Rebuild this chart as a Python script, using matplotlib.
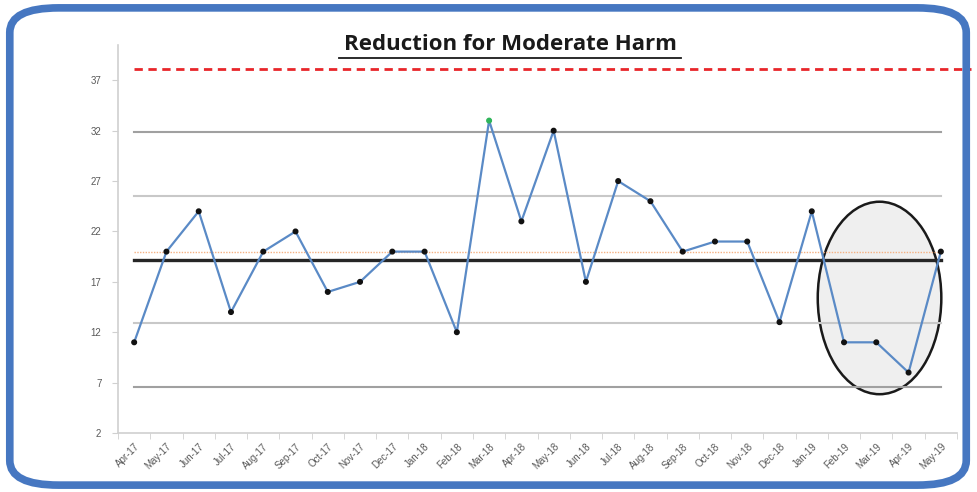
import matplotlib
matplotlib.use("Agg")
import matplotlib.pyplot as plt
from matplotlib.patches import Ellipse, FancyBboxPatch
import numpy as np

months = ["Apr-17", "May-17", "Jun-17", "Jul-17", "Aug-17", "Sep-17", "Oct-17",
          "Nov-17", "Dec-17", "Jan-18", "Feb-18", "Mar-18", "Apr-18", "May-18",
          "Jun-18", "Jul-18", "Aug-18", "Sep-18", "Oct-18", "Nov-18", "Dec-18",
          "Jan-19", "Feb-19", "Mar-19", "Apr-19", "May-19"]
harm_counts = [11, 20, 24, 14, 20, 22, 16, 17, 20, 20, 12, 33, 23, 32,
               17, 27, 25, 20, 21, 21, 13, 24, 11, 11, 8, 20]
highlight_month = "Mar-18"

mean_line = 19.2
target_line = 20.0
upper_limit = 31.9
lower_limit = 6.6
upper_warning = 25.5
lower_warning = 12.9
ceiling_line = 38.1
y_ticks = [2, 7, 12, 17, 22, 27, 32, 37]

fig = plt.figure(figsize=(9.78, 4.92), dpi=100)
ax = fig.add_axes([0.1207, 0.1199, 0.9785 - 0.1207, 0.9085 - 0.1199])

x = np.arange(len(months))
last = x[-1]

# highlighted region around the last few months
ax.add_patch(Ellipse((23.1, 15.4), 3.83, 19.1, facecolor="#efefef",
                     edgecolor="#1a1a1a", linewidth=1.8, zorder=1))

# control and warning limits
for lvl in (upper_limit, lower_limit):
    ax.plot([0, last], [lvl, lvl], color="#a0a0a0", linewidth=1.5, zorder=2)
for lvl in (upper_warning, lower_warning):
    ax.plot([0, last], [lvl, lvl], color="#c8c8c8", linewidth=1.5, zorder=2)
ax.plot([0, last], [target_line, target_line], color="#f4b183",
        linewidth=1.0, linestyle=(0, (1, 1)), zorder=2)
ax.plot([0, last], [mean_line, mean_line], color="#262626", linewidth=2.4, zorder=3)
ax.plot([0, 25.95], [ceiling_line, ceiling_line], color="#e8262a",
        linewidth=2.0, linestyle=(0, (3, 2)), zorder=2, clip_on=False)

# monthly series
ax.plot(x, harm_counts, color="#5a8ac6", linewidth=1.6, zorder=4)
colors = ["#2fb55a" if m == highlight_month else "#111111" for m in months]
ax.scatter(x, harm_counts, s=11, c=colors, zorder=5)

ax.set_xlim(-0.44, 25.5)
ax.set_ylim(2, 40.5)

for side in ("top", "right"):
    ax.spines[side].set_visible(False)
for side in ("left", "bottom"):
    ax.spines[side].set_color("#d0d0d0")
    ax.spines[side].set_linewidth(1.2)

ax.set_yticks(y_ticks)
ax.set_yticklabels([str(v) for v in y_ticks], fontsize=7, color="#595959",
                   family="Liberation Sans")
ax.tick_params(axis="y", length=4, color="#d0d0d0", pad=8)

ax.set_xticks(x)
ax.set_xticklabels(months, rotation=45, ha="right", rotation_mode="anchor",
                   fontsize=7, color="#595959", family="Liberation Sans")
ax.tick_params(axis="x", which="major", length=0, pad=6)
ax.set_xticks(np.arange(-0.5, len(months), 1.0), minor=True)
ax.tick_params(axis="x", which="minor", length=4, color="#d0d0d0")

fig.text(0.522, 0.91, "Reduction for Moderate Harm", ha="center", va="center",
         fontsize=16, fontweight="bold", color="#1a1a1a", family="Open Sans")
fig.add_artist(plt.Line2D([0.347, 0.696], [0.883, 0.883], color="#1a1a1a",
                          linewidth=1.3, transform=fig.transFigure))

# rounded blue frame around the chart
frame = FancyBboxPatch((0.01, 0.014), 0.978, 0.97,
                       boxstyle="round,pad=0,rounding_size=0.05",
                       transform=fig.transFigure, facecolor="none",
                       edgecolor="#4677c1", linewidth=5.5, zorder=10)
fig.patches.append(frame)

fig.savefig("out.png", dpi=100)
